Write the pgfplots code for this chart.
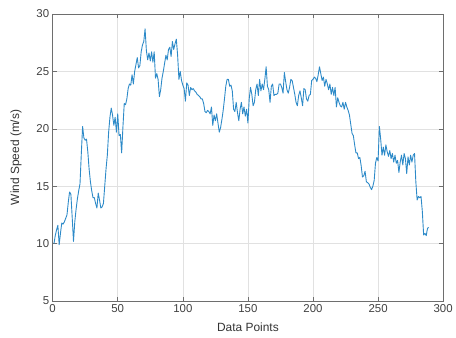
\documentclass[border=0pt]{standalone}
\usepackage{pgfplots}
\pgfplotsset{compat=1.18}
\usepackage{fontspec}
\setmainfont{Liberation Sans}
\definecolor{lineblue}{RGB}{45,138,200}
\definecolor{gridgray}{RGB}{225,225,225}
\definecolor{axgray}{RGB}{110,110,110}

\pgfplotstableread{
x y
1 10.0
2 10.7
3 11.2
4 11.6
5 9.9
6 10.9
7 11.8
8 11.7
9 11.9
10 12.2
11 12.5
12 13.6
13 14.5
14 14.3
15 12.3
16 10.2
17 11.9
18 13.0
19 13.9
20 14.6
21 15.2
22 17.8
23 20.2
24 19.2
25 19.0
26 19.1
27 18.0
28 16.5
29 15.4
30 14.6
31 14.0
32 14.0
33 13.5
34 13.1
35 14.4
36 13.8
37 13.1
38 13.2
39 13.5
40 15.0
41 16.5
42 17.7
43 19.7
44 21.0
45 21.8
46 21.2
47 20.3
48 21.0
49 19.7
50 21.3
51 19.4
52 19.5
53 17.9
54 20.2
55 22.2
56 22.1
57 22.6
58 23.5
59 23.9
60 23.8
61 24.7
62 23.9
63 25.0
64 25.6
65 26.2
66 25.3
67 25.5
68 26.7
69 27.3
70 27.6
71 28.7
72 26.8
73 26.0
74 26.6
75 25.9
76 26.7
77 25.8
78 26.7
79 24.4
80 24.8
81 24.3
82 22.8
83 23.4
84 24.4
85 25.0
86 25.7
87 26.4
88 26.0
89 26.9
90 27.1
91 26.3
92 27.6
93 26.9
94 27.4
95 27.8
96 26.4
97 24.3
98 25.0
99 24.2
100 23.8
101 23.5
102 22.4
103 24.0
104 23.8
105 22.9
106 23.6
107 23.4
108 23.5
109 23.3
110 23.2
111 23.0
112 22.9
113 22.8
114 22.6
115 22.6
116 22.2
117 21.5
118 21.4
119 21.6
120 21.5
121 21.3
122 21.9
123 20.3
124 21.2
125 20.7
126 21.3
127 20.5
128 19.7
129 20.1
130 20.8
131 21.6
132 22.6
133 23.7
134 24.3
135 24.3
136 23.7
137 23.8
138 23.3
139 21.7
140 21.5
141 22.3
142 21.4
143 20.7
144 21.7
145 22.3
146 21.3
147 21.9
148 21.1
149 21.7
150 20.5
151 22.6
152 23.6
153 23.0
154 22.0
155 22.3
156 23.4
157 23.9
158 22.9
159 24.3
160 23.3
161 23.9
162 23.4
163 24.3
164 25.4
165 23.7
166 23.4
167 22.3
168 23.7
169 23.9
170 22.9
171 23.0
172 23.0
173 23.1
174 23.9
175 23.9
176 23.6
177 23.1
178 24.9
179 24.1
180 23.4
181 23.1
182 23.6
183 24.3
184 24.2
185 23.6
186 23.0
187 22.3
188 22.0
189 22.9
190 23.3
191 22.7
192 22.0
193 23.5
194 23.4
195 22.6
196 22.4
197 22.9
198 23.0
199 24.2
200 24.3
201 24.5
202 24.4
203 24.1
204 24.7
205 25.4
206 24.8
207 24.2
208 24.5
209 23.7
210 24.3
211 23.9
212 23.4
213 23.9
214 23.0
215 23.6
216 22.9
217 23.6
218 21.9
219 22.7
220 22.3
221 22.0
222 21.9
223 22.3
224 21.7
225 22.3
226 21.9
227 21.6
228 21.2
229 20.4
230 19.6
231 19.4
232 18.6
233 17.9
234 17.9
235 17.4
236 17.5
237 16.8
238 15.8
239 15.9
240 16.3
241 15.4
242 15.3
243 15.2
244 14.9
245 14.7
246 15.0
247 15.5
248 17.0
249 17.5
250 17.2
251 20.2
252 19.1
253 17.7
254 18.4
255 17.7
256 18.6
257 18.0
258 17.6
259 18.1
260 17.4
261 17.85
262 17.1
263 17.7
264 17.0
265 17.25
266 16.2
267 17.1
268 17.7
269 16.85
270 17.85
271 17.4
272 16.1
273 17.55
274 16.85
275 17.7
276 17.1
277 17.7
278 17.85
279 15.4
280 13.8
281 14.1
282 14.0
283 14.1
284 12.8
285 10.75
286 10.9
287 10.7
288 11.35
289 11.4
}\windtable

\begin{document}
\begin{tikzpicture}
\begin{axis}[
  scale only axis,
  width=393pt, height=289pt,
  xmin=0, xmax=300, ymin=5, ymax=30,
  xtick={0,50,...,300}, ytick={5,10,...,30},
  grid=major,
  major grid style={gridgray, line width=0.5pt},
  axis line style={axgray, line width=0.6pt},
  tick style={axgray, line width=0.5pt},
  tick align=inside,
  major tick length=4pt,
  ticklabel style={font=\fontsize{11.5}{13}\selectfont, text=black!75},
  /pgf/number format/assume math mode=true,
  xlabel={Data Points},
  ylabel={Wind Speed (m/s)},
  label style={font=\fontsize{12}{14}\selectfont, text=black!80},
  xlabel style={yshift=-3pt},
  ylabel style={yshift=8pt},
]
\addplot[lineblue, line width=0.9pt, line join=round] table[x=x, y=y] {\windtable};
\end{axis}
\path ([shift={(-53pt,-37pt)}]current axis.south west) rectangle ([shift={(10pt,14pt)}]current axis.north east);
\end{tikzpicture}
\end{document}
